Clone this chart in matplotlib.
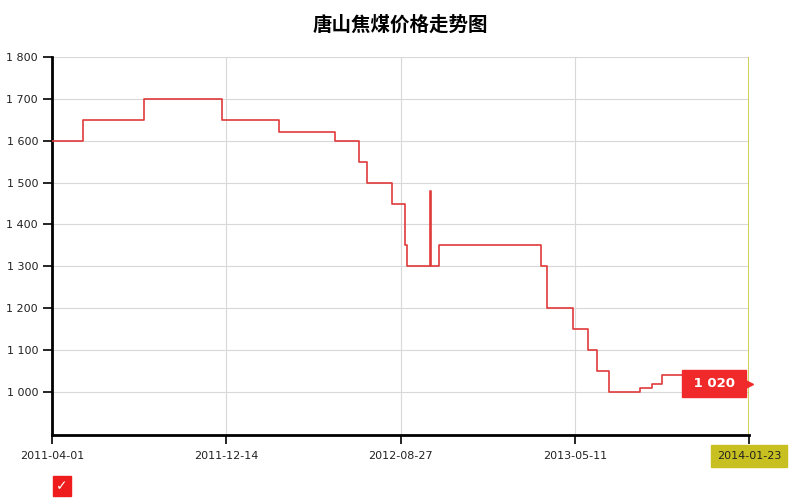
import pandas as pd
import matplotlib
matplotlib.use("Agg")
import matplotlib.pyplot as plt

plt.rcParams['font.family'] = ['Noto Sans CJK SC', 'DejaVu Sans']

# step changes of the price (yuan/ton)
dates = ["2011-04-01", "2011-05-16", "2011-08-15", "2011-12-08", "2012-03-01",
         "2012-05-22", "2012-06-27", "2012-07-09", "2012-08-14", "2012-09-03",
         "2012-09-06", "2012-10-10", "2012-10-11", "2012-10-23", "2013-03-22",
         "2013-03-31", "2013-05-08", "2013-05-31", "2013-06-13", "2013-07-01",
         "2013-08-15", "2013-09-02", "2013-09-16", "2013-12-20", "2014-01-23"]
prices = [1600, 1650, 1700, 1650, 1620,
          1600, 1550, 1500, 1450, 1350,
          1300, 1480, 1300, 1350, 1300,
          1200, 1150, 1100, 1050, 1000,
          1010, 1020, 1040, 1020, 1020]

tick_dates = ["2011-04-01", "2011-12-14", "2012-08-27", "2013-05-11", "2014-01-23"]
y_ticks = [1000, 1100, 1200, 1300, 1400, 1500, 1600, 1700, 1800]
title = "唐山焦煤价格走势图"
last_label = "1 020"

x = pd.to_datetime(dates)
xt = pd.to_datetime(tick_dates)

fig = plt.figure(figsize=(8, 5), dpi=100)
ax = fig.add_axes([0.065, 0.13, 0.87125, 0.756])

ax.plot(x, prices, drawstyle='steps-post', color='#e03a3a', lw=1.2, zorder=3)

ax.set_xlim(xt[0], xt[-1])
ax.set_ylim(897, 1800)
ax.set_yticks(y_ticks)
ax.set_yticklabels([f"{v:,}".replace(",", " ") for v in y_ticks],
                   fontsize=8, family='DejaVu Sans', color='#222222')
ax.set_xticks(xt)
ax.set_xticklabels(tick_dates, fontsize=8, family='DejaVu Sans', color='#222222')
ax.tick_params(axis='both', direction='out', length=6.5, width=1.2, color='black')
ax.tick_params(axis='x', pad=5)

ax.grid(True, color='#d8d8d8', lw=0.8, zorder=0)
for s in ['top', 'right']:
    ax.spines[s].set_visible(False)
for s in ['left', 'bottom']:
    ax.spines[s].set_linewidth(2)
    ax.spines[s].set_color('black')
ax.axvline(xt[-1], color='#c8c83a', lw=1.2, zorder=2)

# end value marker
ax.plot([xt[-1]], [prices[-1]], marker='>', ms=6, color='#f02a2a', clip_on=False, zorder=5)
ax.annotate(" " + last_label + " ", xy=(xt[-1], prices[-1]), xytext=(-25, 0),
            textcoords='offset points', ha='center', va='center', fontsize=9.5,
            fontweight='bold', color='white', family='DejaVu Sans', zorder=6,
            bbox=dict(boxstyle='square,pad=0.5', fc='#f02a2a', ec='#f02a2a'))

# last tick label sits in an olive box
lbl = ax.get_xticklabels()[-1]
lbl.set_bbox(dict(boxstyle='square,pad=0.55', fc='#c8c020', ec='#c8c020'))

fig.text(0.5, 0.95, title, ha='center', va='center', fontsize=14, fontweight='bold')

# legend checkbox
fig.text(62 / 800, 1 - 486 / 500, "✓", ha='center', va='center', fontsize=10,
         color='white', fontweight='bold', family='DejaVu Sans',
         bbox=dict(boxstyle='square,pad=0.2', fc='#ee1c1c', ec='#ee1c1c'))

fig.savefig("out.png", dpi=100)
